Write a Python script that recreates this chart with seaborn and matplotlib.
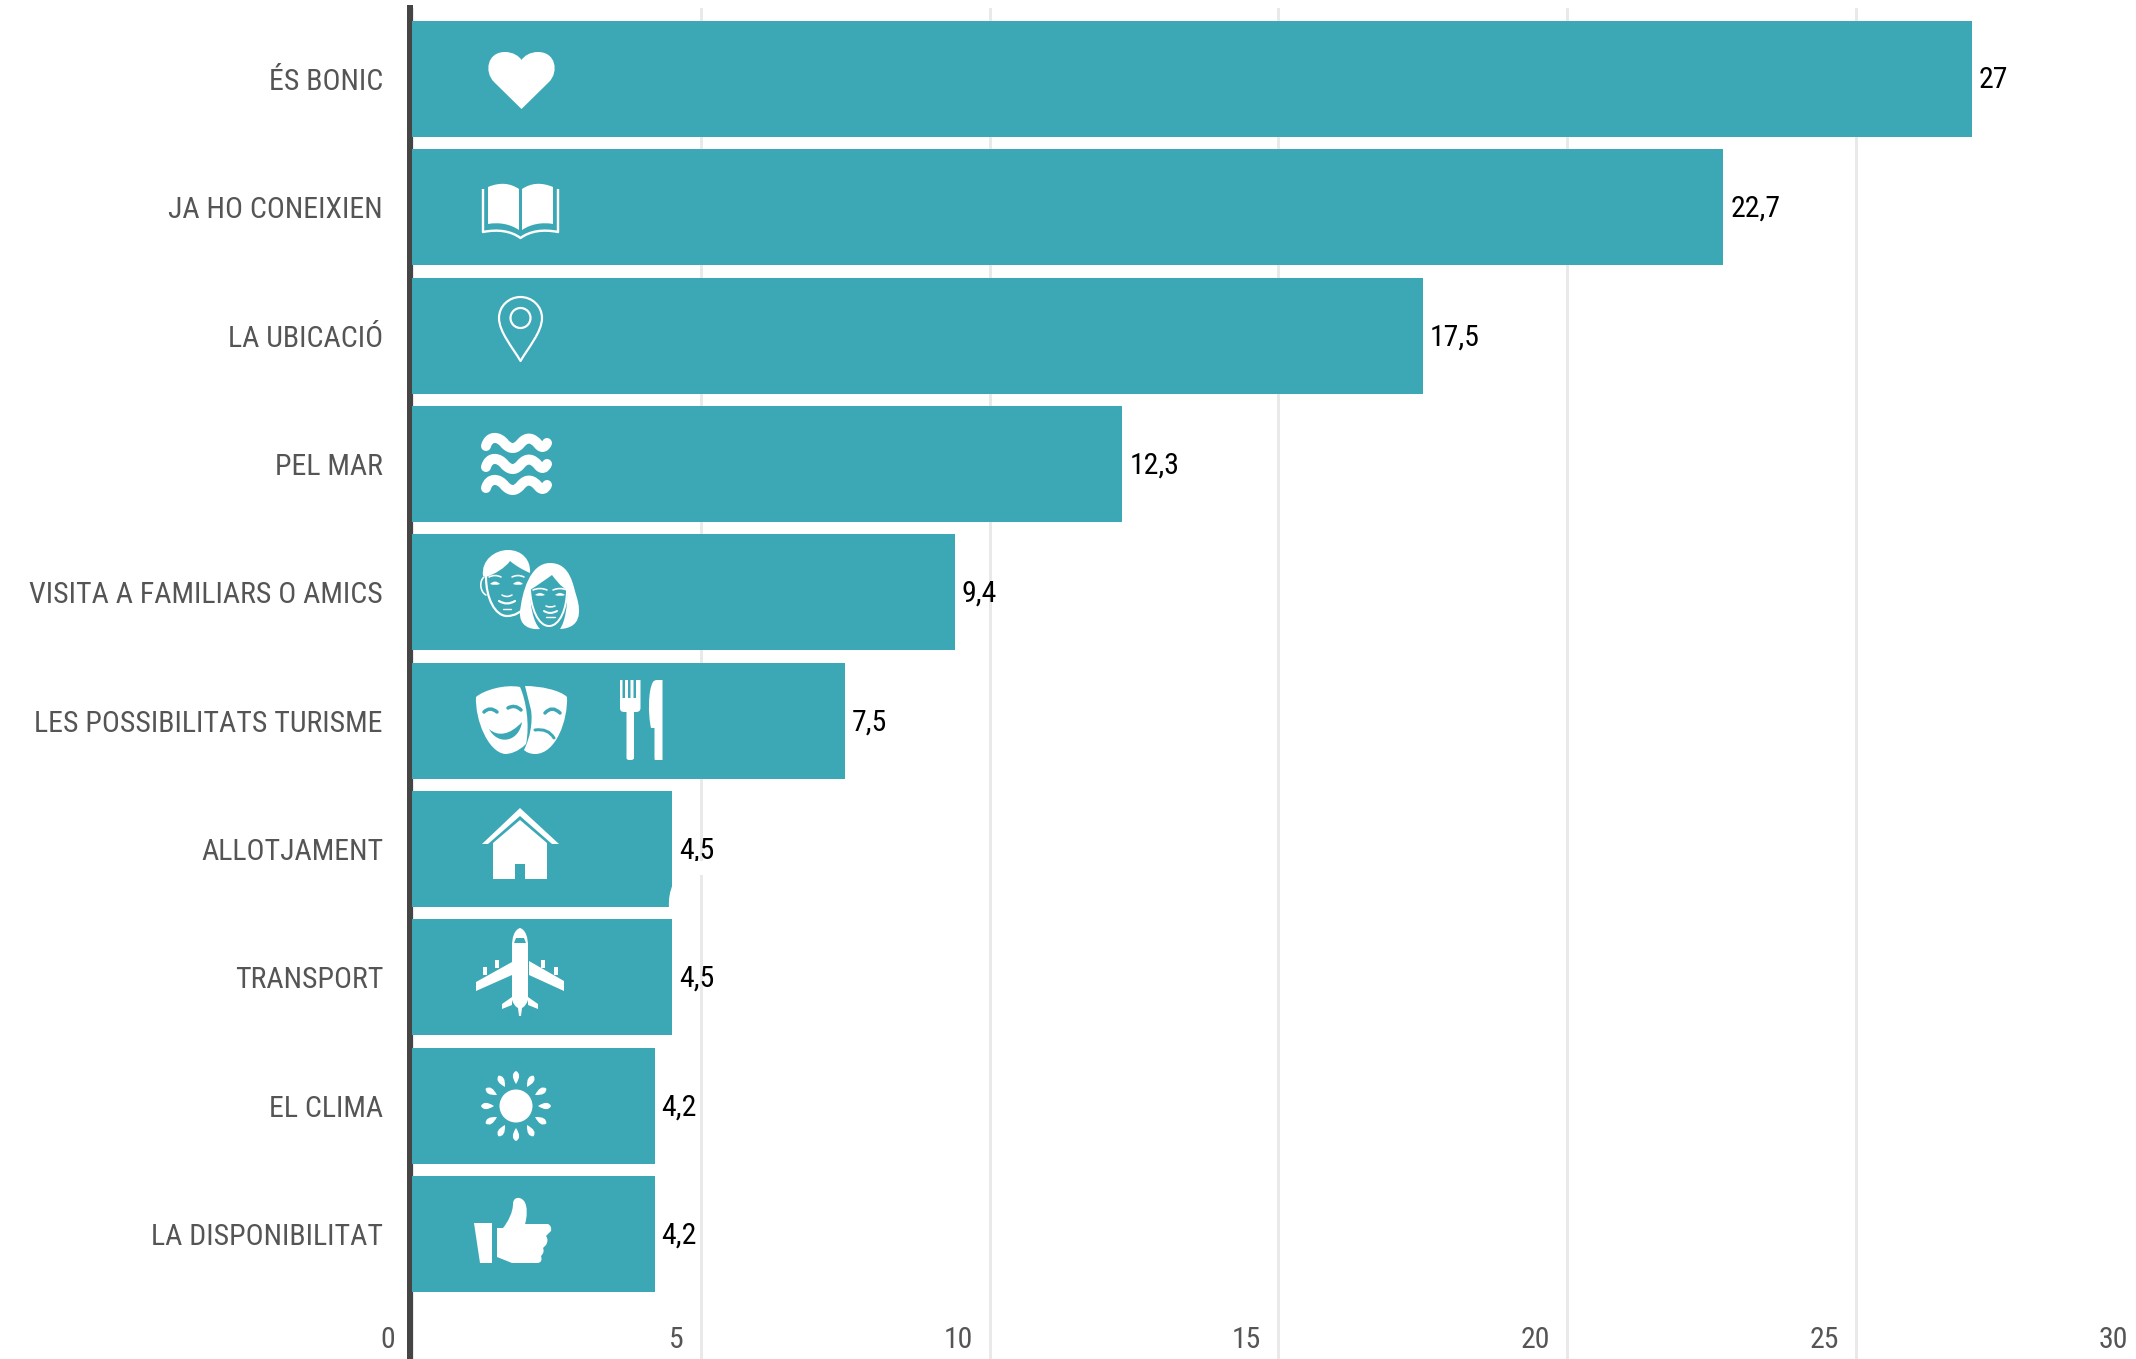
import re
import matplotlib
matplotlib.use("Agg")
import matplotlib.pyplot as plt
import numpy as np
import pandas as pd
import seaborn as sns
from matplotlib.path import Path
from matplotlib.patches import PathPatch, Circle, Rectangle
from matplotlib.transforms import ScaledTranslation

# Dades
motius = ["ÉS BONIC", "JA HO CONEIXIEN", "LA UBICACIÓ", "PEL MAR", "VISITA A FAMILIARS O AMICS",
          "LES POSSIBILITATS TURISME", "ALLOTJAMENT", "TRANSPORT", "EL CLIMA", "LA DISPONIBILITAT"]
valors = [27, 22.7, 17.5, 12.3, 9.4, 7.5, 4.5, 4.5, 4.2, 4.2]
etiquetes = ["27", "22,7", "17,5", "12,3", "9,4", "7,5", "4,5", "4,5", "4,2", "4,2"]
ticks_x = [0, 5, 10, 15, 20, 25, 30]

COLOR_BARRA = "#3CA8B5"
COLOR_TEXT = "#555555"
W, H = 2136, 1359
DPI = 100
PX = 72 / DPI
MIDA = 21.5

sns.set_theme(style="white")
plt.rcParams["font.family"] = ["Roboto Condensed", "DejaVu Sans"]

fig = plt.figure(figsize=(W / DPI, H / DPI), dpi=DPI)
ax = fig.add_axes([412 / W, 0, (2144.8 - 412) / W, (H - 8) / H])

df = pd.DataFrame({"motiu": motius, "valor": valors})
sns.barplot(data=df, x="valor", y="motiu", color=COLOR_BARRA, saturation=1, width=0.904,
            zorder=3, edgecolor="none", linewidth=0, ax=ax)
ax.set_xlim(0, 30)
ax.set_ylim(9.974, -0.553)
ax.set_xlabel("")
ax.set_ylabel("")
ax.set_xticks(ticks_x)
ax.set_xticklabels([str(t) for t in ticks_x])
ax.grid(axis="x", color="#e9e9e9", linewidth=3 * PX, zorder=0)
ax.set_axisbelow(True)
sns.despine(ax=ax, top=True, right=True, bottom=True)
ax.spines["left"].set_color("#454545")
ax.spines["left"].set_linewidth(6 * PX)
ax.spines["left"].set_position(("outward", 2 * PX))
ax.spines["left"].set_zorder(2)

ax.tick_params(axis="y", length=0, pad=27 * PX, labelsize=MIDA, labelcolor=COLOR_TEXT)
ax.tick_params(axis="x", length=0, pad=-33 * PX, labelsize=MIDA, labelcolor=COLOR_TEXT)
for lab in ax.get_xticklabels():
    lab.set_ha("right")
    lab.set_transform(lab.get_transform() + ScaledTranslation(-17 / DPI, 0, fig.dpi_scale_trans))

textos = ax.bar_label(ax.containers[0], labels=etiquetes, padding=7 * PX, fontsize=MIDA, color="black")
for t in textos:
    t.xyann = (t.xyann[0], t.xyann[1] - 1.5 * PX)

# Capa d'icones, en píxels de la imatge
ic = fig.add_axes([0, 0, 1, 1], facecolor="none")
ic.set_xlim(0, W)
ic.set_ylim(H, 0)
ic.axis("off")

CODIS = {"M": (Path.MOVETO, 1), "L": (Path.LINETO, 1), "Q": (Path.CURVE3, 2), "C": (Path.CURVE4, 3)}


def ruta(s):
    verts, codes = [], []
    for cmd, args in re.findall(r"([MLQCZ])([^MLQCZ]*)", s):
        if cmd == "Z":
            verts.append(verts[-1])
            codes.append(Path.CLOSEPOLY)
            continue
        nums = [float(n) for n in args.replace(",", " ").split()]
        code, n = CODIS[cmd]
        for i in range(0, len(nums), 2):
            verts.append((nums[i], nums[i + 1]))
            codes.append(code)
    return Path(verts, codes)


def forma(s, color="white", **kw):
    ic.add_patch(PathPatch(ruta(s), facecolor=color, edgecolor="none", lw=0, **kw))


def traç(s, lw, color="white", cap="round"):
    ic.add_patch(PathPatch(ruta(s), facecolor="none", edgecolor=color, lw=lw * PX, capstyle=cap, joinstyle="round"))


# cor
forma("M521.5 109 L494 82 C484 72 487 52 505 52 C513 52 519 56 521.5 60 C524 56 530 52 538 52 "
      "C556 52 559 72 549 82 Z")

# llibre
forma("M488 187 C500 182 510 183 519 189 L519 230 C510 224 499 222 488 224 Z")
forma("M522 189 C531 183 541 182 553 187 L553 224 C542 222 531 224 522 230 Z")
traç("M483 189 L483 232 C498 229 511 231 520.5 238 C530 231 543 229 558 232 L558 189", 2.4, cap="butt")

# ubicació
traç("M520.5 361 C513 348 499 332 499 318 C499 306 509 297 520.5 297 C532 297 542 306 542 318 "
     "C542 332 528 348 520.5 361 Z", 2.2)
ic.add_patch(Circle((520.5, 318), 10, facecolor="none", edgecolor="white", lw=2.2 * PX))

# mar
for y in (444, 465, 486):
    traç(f"M486 {y+2} C489 {y-9} 499 {y-8} 505 {y} C511 {y+6} 516 {y+5} 521 {y-1} "
         f"C527 {y-8} 533 {y-6} 538 {y} C542 {y+5} 545 {y+3} 547 {y-1}", 10)

# parella
forma("M483 576 C481 560 495 550 508 550 C522 550 531 560 530 573 C523 570 516 566 510 561 "
      "C505 568 495 574 486 577 Z")
traç("M486 577 C486 598 495 616 507 616 C515 616 521 612 526 606", 2.2)
traç("M484 577 C479 581 480 592 486 595", 1.6)
for x in (495, 518):
    traç(f"M{x-6} 577 Q{x} 574 {x+6} 577", 1.6)
    forma(f"M{x-5} 584 Q{x} 579 {x+5} 584 Q{x} 586 {x-5} 584 Z")
traç("M502 595 Q507 598 512 595", 1.6)
traç("M499 601 Q507 606 515 601", 2.2)
traç("M503 609 L511 609", 1.4)
forma("M520 612 C522 592 530 563 550 563 C571 563 573 586 577 598 C581 612 581 628 560 629 "
      "C565 622 568 605 567 590 C560 586 556 580 552 575 C545 580 538 585 530 590 "
      "C530 605 533 622 540 629 C530 630 519 626 520 612 Z")
traç("M530 590 C531 608 538 626 549 626 C560 626 567 608 567 590", 2)
for x in (540, 560):
    traç(f"M{x-7} 590 Q{x} 587 {x+7} 590", 1.6)
    forma(f"M{x-5} 595 Q{x} 591 {x+5} 595 Q{x} 597 {x-5} 595 Z")
traç("M546 606 Q550 608 555 606", 1.6)
traç("M544 611 Q550 615 557 611", 2)
traç("M546 617 L555 617", 1.4)

# màscares
forma("M525 686 C540 686 560 690 567 697 C568 720 556 754 535 754 C530 754 526 752 524 750 C530 738 533 722 531 710 Z")
traç("M535 730 Q548 728 554 738", 3, color=COLOR_BARRA)
traç("M545 713 Q552 705 560 713", 3.5, color=COLOR_BARRA)
forma("M476 697 C484 690 505 684 520 687 C526 700 530 725 526 744 C518 752 510 754 505 754 "
      "C488 752 475 720 476 697 Z")
traç("M484 712 Q490 706 497 712", 3.5, color=COLOR_BARRA)
traç("M508 708 Q515 704 521 710", 3.5, color=COLOR_BARRA)
forma("M489 729 C498 737 510 735 522 722 C519 742 498 746 489 729 Z", color=COLOR_BARRA)

# coberts
forma("M620 680 L622.5 680 L622.5 698 L625 698 L625 680 L628 680 L628 698 L630.5 698 L630.5 680 "
      "L633.5 680 L633.5 698 L636 698 L636 680 L640.5 680 L640.5 708 Q640.5 712 636 712 L634 712 L634 758 "
      "Q634 760 631 760 L629 760 Q626.5 760 626.5 758 L626.5 712 L624 712 Q620 712 620 708 Z")
forma("M662.5 680 L662.5 760 L655 760 Q654.5 760 654.5 758 L654.5 728 L651 728 C648 715 648 690 653 682 "
      "Q654 680 657 680 Z")

# casa
forma("M520 808 L559 844 L552 844 L520 816 L488 844 L482 844 Z")
forma("M520 820 L547 843 L547 879 L525 879 L525 864 L515 864 L515 879 L493 879 L493 843 Z")

# avió
forma("M520 928 C526 930 528 938 528 946 L528 1000 Q526 1006 522 1008 L521 1016 L519 1016 L518 1008 "
      "Q514 1006 512 1000 L512 946 C512 938 514 930 520 928 Z")
forma("M512 962 L476 982 L476 991 L512 975 Z")
forma("M529 961 L564 981 L564 991 L529 975 Z")
forma("M512 997 L502 1004 L502 1009 L512 1005 Z")
forma("M528 997 L538 1004 L538 1009 L528 1005 Z")
for x, y in ((484.5, 971), (497, 964), (543, 964), (556, 971)):
    ic.add_patch(Rectangle((x - 2, y - 4), 4, 8, facecolor="white", lw=0))
forma("M516 938 L524 938 L526 943 L514 943 Z", color=COLOR_BARRA)

# sol
ic.add_patch(Circle((516, 1106), 16.5, facecolor="white", lw=0))
for a in np.deg2rad(np.arange(0, 360, 30)):
    c, s = np.cos(a), np.sin(a)
    x0, y0 = 516 + 22 * c, 1106 + 22 * s
    x1, y1 = 516 + 35 * c, 1106 + 35 * s
    xm, ym = 516 + 32 * c - 6.5 * s, 1106 + 32 * s + 6.5 * c
    xn, yn = 516 + 32 * c + 6.5 * s, 1106 + 32 * s - 6.5 * c
    forma(f"M{x0} {y0} Q{xm} {ym} {x1} {y1} Q{xn} {yn} {x0} {y0} Z")

# polze
forma("M474 1223 L492 1223 L492 1263 L480 1263 Z")
forma("M497 1228 L503 1228 C508 1222 513 1212 513 1204 C513 1197 520 1196 524 1201 C528 1206 527 1218 525 1224 "
      "L548 1224 Q552 1226 551 1231 L546 1236 Q549 1240 546 1245 L543 1248 Q545 1252 541 1256 "
      "Q543 1262 538 1263 L512 1263 L497 1257 Z")

# taques blanques de l'original, vora la barra d'allotjament
ic.add_patch(Rectangle((676, 861), 28, 14, facecolor="white", lw=0))
forma("M673 884 Q668 895 669 908 L680 908 L680 884 Z")

fig.savefig("out.png", dpi=DPI)
